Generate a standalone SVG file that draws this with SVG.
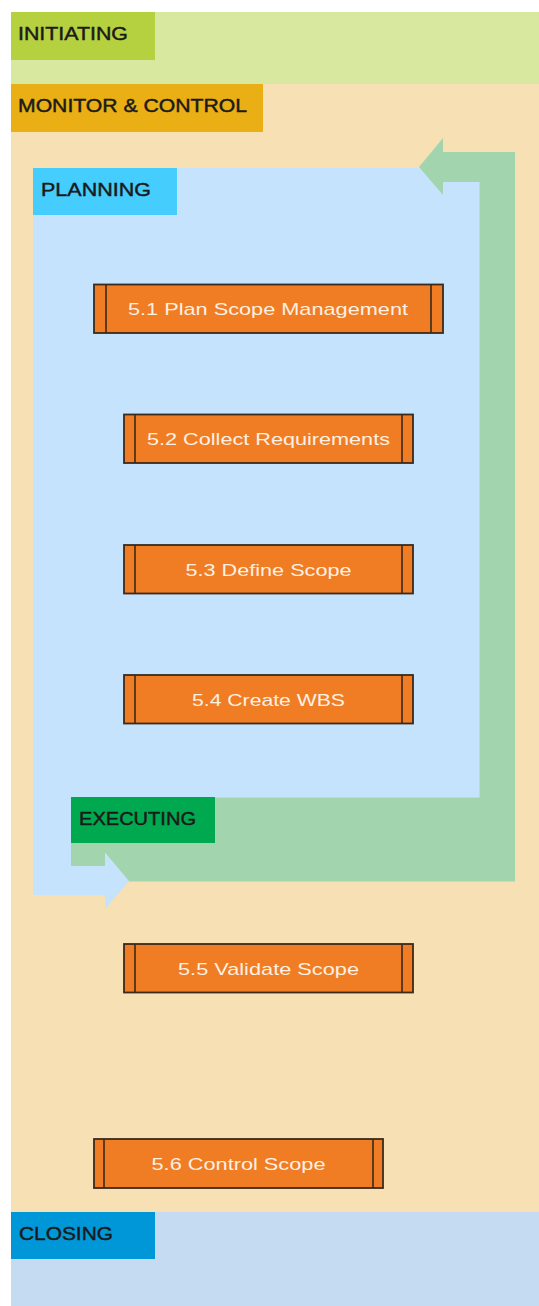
<svg xmlns="http://www.w3.org/2000/svg" width="539" height="1306" viewBox="0 0 539 1306">
<style>
.lbl{font-family:"Liberation Sans",Arial,sans-serif;font-size:18px;fill:#1a1a1a;stroke:#1a1a1a;stroke-width:0.45}
.ptxt{font-family:"Liberation Sans",Arial,sans-serif;font-size:17px;fill:#fdf0e4;text-anchor:middle}
.pbox{fill:#f07d23;stroke:#3a2a1c;stroke-width:1.8}
.pline{stroke:#3a2a1c;stroke-width:1.6}
</style>
<rect width="539" height="1306" fill="#ffffff"/>
<g id="initiating">
<rect x="11" y="12" width="528" height="72" fill="#d9e89f"/>
<rect x="11" y="12" width="144" height="48" fill="#b6d13f"/>
<text class="lbl" x="18" y="40" textLength="110" lengthAdjust="spacingAndGlyphs">INITIATING</text>
</g>
<g id="monitor">
<rect x="11" y="84" width="528" height="1128" fill="#f7e0b4"/>
<rect x="11" y="84" width="252" height="48" fill="#eaaf14"/>
<text class="lbl" x="18" y="112" textLength="229" lengthAdjust="spacingAndGlyphs">MONITOR &amp; CONTROL</text>
</g>
<g id="closing">
<rect x="11" y="1212" width="528" height="94" fill="#c5dbf1"/>
<rect x="11" y="1212" width="144" height="47" fill="#0097d9"/>
<text class="lbl" x="19" y="1240" textLength="94" lengthAdjust="spacingAndGlyphs">CLOSING</text>
</g>
<g id="connectors">
<polygon id="planning-area" points="33,168 479.5,168 479.5,797.5 71,797.5 71,895 33,895" fill="#c5e3fc"/>
<polygon id="executing-loop" points="71,797.5 479.5,797.5 479.5,182 443,182 443,195 419,167 443,138 443,152 515,152 515,881.5 71,881.5" fill="#a2d5ae"/>
<polygon id="planning-arrow" points="71,866 105,866 105,852.5 129,881 105,909 105,895 71,895" fill="#c5e3fc"/>
</g>
<g id="planning">
<rect x="33" y="168" width="144" height="47" fill="#45cdfe"/>
<text class="lbl" x="41" y="196" textLength="110" lengthAdjust="spacingAndGlyphs">PLANNING</text>
</g>
<g id="executing">
<rect x="71" y="797" width="144" height="46" fill="#00a84f"/>
<text class="lbl" x="79" y="825" textLength="117" lengthAdjust="spacingAndGlyphs">EXECUTING</text>
</g>
<g id="p51">
<rect class="pbox" x="94" y="284.5" width="349" height="48.5"/>
<line class="pline" x1="106" y1="284.5" x2="106" y2="333"/>
<line class="pline" x1="431" y1="284.5" x2="431" y2="333"/>
<text class="ptxt" x="268" y="315" textLength="280" lengthAdjust="spacingAndGlyphs">5.1 Plan Scope Management</text>
</g>
<g id="p52">
<rect class="pbox" x="124" y="414.5" width="289" height="48.5"/>
<line class="pline" x1="135" y1="414.5" x2="135" y2="463"/>
<line class="pline" x1="402" y1="414.5" x2="402" y2="463"/>
<text class="ptxt" x="268.5" y="445" textLength="243" lengthAdjust="spacingAndGlyphs">5.2 Collect Requirements</text>
</g>
<g id="p53">
<rect class="pbox" x="124" y="545" width="289" height="48.5"/>
<line class="pline" x1="135" y1="545" x2="135" y2="593.5"/>
<line class="pline" x1="402" y1="545" x2="402" y2="593.5"/>
<text class="ptxt" x="268.5" y="576" textLength="166" lengthAdjust="spacingAndGlyphs">5.3 Define Scope</text>
</g>
<g id="p54">
<rect class="pbox" x="124" y="675" width="289" height="48.5"/>
<line class="pline" x1="135" y1="675" x2="135" y2="723.5"/>
<line class="pline" x1="402" y1="675" x2="402" y2="723.5"/>
<text class="ptxt" x="268.5" y="706" textLength="153" lengthAdjust="spacingAndGlyphs">5.4 Create WBS</text>
</g>
<g id="p55">
<rect class="pbox" x="124" y="944" width="289" height="48.5"/>
<line class="pline" x1="135" y1="944" x2="135" y2="992.5"/>
<line class="pline" x1="402" y1="944" x2="402" y2="992.5"/>
<text class="ptxt" x="268.5" y="975" textLength="181" lengthAdjust="spacingAndGlyphs">5.5 Validate Scope</text>
</g>
<g id="p56">
<rect class="pbox" x="94" y="1139" width="289" height="49"/>
<line class="pline" x1="104" y1="1139" x2="104" y2="1188"/>
<line class="pline" x1="373" y1="1139" x2="373" y2="1188"/>
<text class="ptxt" x="238.5" y="1170" textLength="174" lengthAdjust="spacingAndGlyphs">5.6 Control Scope</text>
</g>
</svg>
